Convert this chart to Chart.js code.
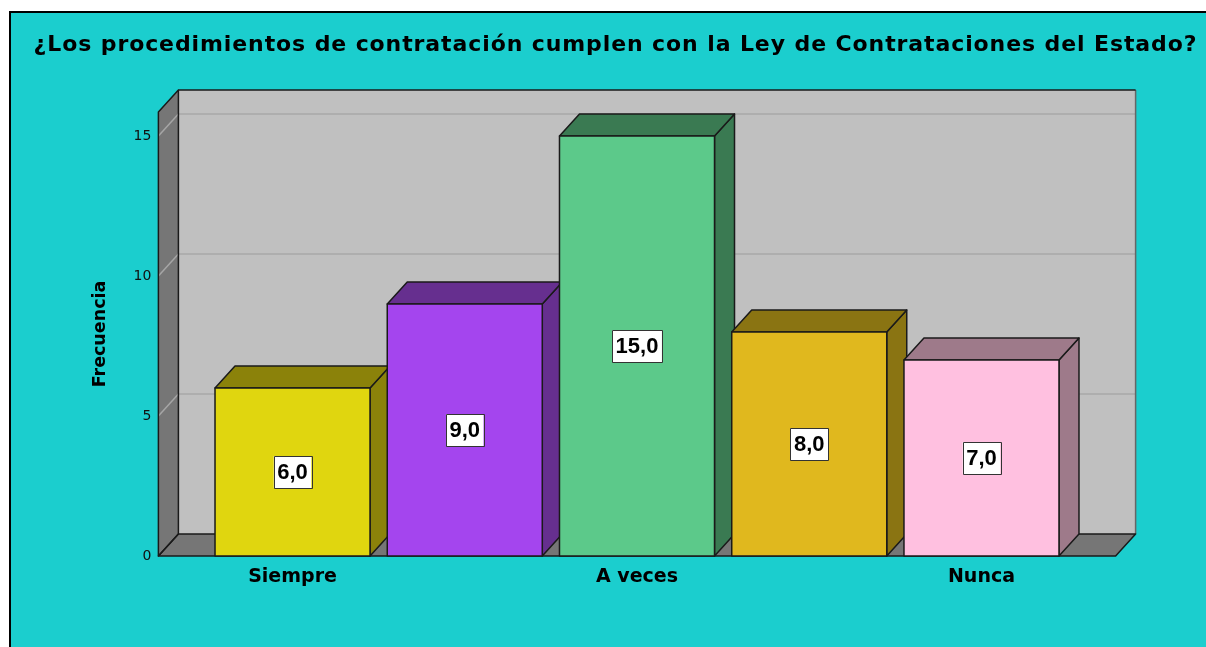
<!DOCTYPE html>
<html>
<head>
<meta charset="utf-8">
<script src="https://cdn.jsdelivr.net/npm/chart.js@4.4.1/dist/chart.umd.min.js"></script>
<style>
  html, body { margin: 0; padding: 0; background: #fff; }
  #wrap { position: relative; width: 1206px; height: 647px; }
</style>
</head>
<body>
<div id="wrap"><canvas id="c" width="1206" height="647"></canvas></div>
<script>
const titleText = '¿Los procedimientos de contratación cumplen con la Ley de Contrataciones del Estado?';
const yTitle = 'Frecuencia';
const categories = ['Siempre', '', 'A veces', '', 'Nunca'];
const frecuencias = [6, 9, 15, 8, 7];
const yTicks = [0, 5, 10, 15];
const yMax = 15.86;

const frontColors = ['#e0d60f', '#a445ee', '#5cc98a', '#e0b81e', '#ffc0e0'];
const sideColors = ['#8b820a', '#662f8f', '#3a7a52', '#8a7412', '#9e7a8a'];

const FONT = "'DejaVu Sans', Verdana, sans-serif";
const LABEL_FONT = "'Liberation Sans', Arial, sans-serif";
const DX = 20, DY = 22, SIDE = 48;

const poly = (ctx, pts, fill, stroke) => {
    ctx.beginPath();
    ctx.moveTo(pts[0][0], pts[0][1]);
    for (let i = 1; i < pts.length; i++) ctx.lineTo(pts[i][0], pts[i][1]);
    ctx.closePath();
    if (fill) { ctx.fillStyle = fill; ctx.fill(); }
    if (stroke) { ctx.strokeStyle = stroke; ctx.stroke(); }
}

const seg = (ctx, x1, y1, x2, y2, color, w) => {
    ctx.beginPath();
    ctx.moveTo(x1, y1);
    ctx.lineTo(x2, y2);
    ctx.strokeStyle = color;
    ctx.lineWidth = w;
    ctx.stroke();
}

// walls, floor and frame behind the bars, then the 3d faces on top
const threeD = {
    id: 'threeD',
    afterLayout(chart) {
        // title in the original is set a little looser
        const tb = chart.titleBlock;
        if (tb && !tb._spaced) {
            const d = tb.draw.bind(tb);
            tb.draw = area => {
                chart.ctx.letterSpacing = '0.9px';
                d(area);
                chart.ctx.letterSpacing = '0px';
            };
            tb._spaced = true;
        }
    },
    beforeDraw(chart) {
        const ctx = chart.ctx, a = chart.chartArea, ys = chart.scales.y;
        const W = chart.width, H = chart.height;
        ctx.save();
        ctx.fillStyle = '#fff';
        ctx.fillRect(0, 0, W, H);
        ctx.fillStyle = '#1bcece';
        ctx.fillRect(11, 13, W, H);
        ctx.fillStyle = '#000';
        ctx.fillRect(9, 11, 2, H);
        ctx.fillRect(9, 11, W, 2);

        const L = a.left - SIDE, R = a.right + SIDE, T = a.top, B = a.bottom;
        ctx.fillStyle = '#c0c0c0';
        ctx.fillRect(L + DX, T - DY, R - L, B - T);
        poly(ctx, [[L, T], [L + DX, T - DY], [L + DX, B - DY], [L, B]], '#767676');
        poly(ctx, [[L, B], [L + DX, B - DY], [R + DX, B - DY], [R, B]], '#767676');

        yTicks.forEach(v => {
            if (v === 0) return;
            const py = ys.getPixelForValue(v);
            seg(ctx, L + DX, py - DY, R + DX, py - DY, '#a9a9a9', 1.5);
            seg(ctx, L, py, L + DX, py - DY, '#a6a6a6', 1.5);
        });

        seg(ctx, R + DX, T - DY, R + DX, B - DY, '#666', 1.5);
        ctx.lineWidth = 1.5;
        ctx.lineJoin = 'round';
        poly(ctx, [[L, T], [L + DX, T - DY], [L + DX, B - DY], [L, B]], null, '#1a1a1a');
        poly(ctx, [[L, B], [L + DX, B - DY], [R + DX, B - DY], [R, B]], null, '#1a1a1a');
        seg(ctx, L + DX, T - DY, R + DX, T - DY, '#1a1a1a', 1.5);
        ctx.restore();
    },
    afterDatasetsDraw(chart) {
        const ctx = chart.ctx;
        const meta = chart.getDatasetMeta(0);
        ctx.save();
        ctx.lineWidth = 1.5;
        ctx.lineJoin = 'round';
        meta.data.forEach((bar, i) => {
            const {x, y, base, width} = bar.getProps(['x', 'y', 'base', 'width'], true);
            const l = x - width / 2, r = x + width / 2;
            poly(ctx, [[r, y], [r + DX, y - DY], [r + DX, base - DY], [r, base]], sideColors[i], '#1a1a1a');
            poly(ctx, [[l, y], [l + DX, y - DY], [r + DX, y - DY], [r, y]], sideColors[i], '#1a1a1a');
            poly(ctx, [[l, y], [r, y], [r, base], [l, base]], frontColors[i], '#1a1a1a');
        });

        // value boxes
        ctx.font = 'bold 22px ' + LABEL_FONT;
        ctx.textAlign = 'center';
        ctx.textBaseline = 'middle';
        meta.data.forEach((bar, i) => {
            const {x, y, base} = bar.getProps(['x', 'y', 'base'], true);
            const txt = frecuencias[i].toFixed(1).replace('.', ',');
            const cy = (y + base) / 2;
            const w = ctx.measureText(txt).width + 7, h = 32;
            ctx.fillStyle = '#fff';
            ctx.fillRect(x - w / 2, cy - h / 2, w, h);
            ctx.strokeStyle = '#333';
            ctx.lineWidth = 1;
            ctx.strokeRect(Math.round(x - w / 2) + 0.5, Math.round(cy - h / 2) + 0.5, Math.round(w), h);
            ctx.fillStyle = '#000';
            ctx.fillText(txt, x, cy + 1);
        });
        ctx.restore();
    }
};

new Chart(document.getElementById('c'), {
    type: 'bar',
    data: {
        labels: categories,
        datasets: [{
            data: frecuencias,
            backgroundColor: frontColors,
            borderWidth: 0,
            barPercentage: 0.9,
            categoryPercentage: 1
        }]
    },
    options: {
        responsive: false,
        animation: false,
        layout: { padding: { left: 25, right: 0, top: 0, bottom: 0 } },
        plugins: {
            legend: { display: false },
            tooltip: { enabled: false },
            title: {
                display: true,
                text: titleText,
                color: '#000',
                font: { family: FONT, size: 22, weight: 'bold' },
                padding: { top: 32.3, bottom: 53.3 }
            }
        },
        scales: {
            x: {
                grid: { display: false, drawTicks: false },
                border: { display: false },
                ticks: {
                    autoSkip: false,
                    maxRotation: 0,
                    color: '#000',
                    padding: 10,
                    font: { family: FONT, size: 19, weight: 'bold' }
                },
                afterFit(s) { s.height = 91; }
            },
            y: {
                min: 0,
                max: yMax,
                grid: { display: false, drawTicks: false },
                border: { display: false },
                ticks: {
                    stepSize: 5,
                    includeBounds: false,
                    color: '#111',
                    padding: 55,
                    font: { family: FONT, size: 14 }
                },
                title: {
                    display: true,
                    text: yTitle,
                    color: '#000',
                    font: { family: FONT, size: 17.5, weight: 'bold' },
                    padding: { top: 64.5, bottom: 0 }
                },
                afterFit(s) { s.width = 181.4; }
            },
            // empty spacer so the plot stops where the reference's does
            yR: {
                position: 'right',
                display: true,
                grid: { display: false, drawTicks: false },
                border: { display: false },
                ticks: { display: false },
                afterFit(s) { s.width = 138.4; }
            }
        }
    },
    plugins: [threeD]
});
</script>
</body>
</html>
